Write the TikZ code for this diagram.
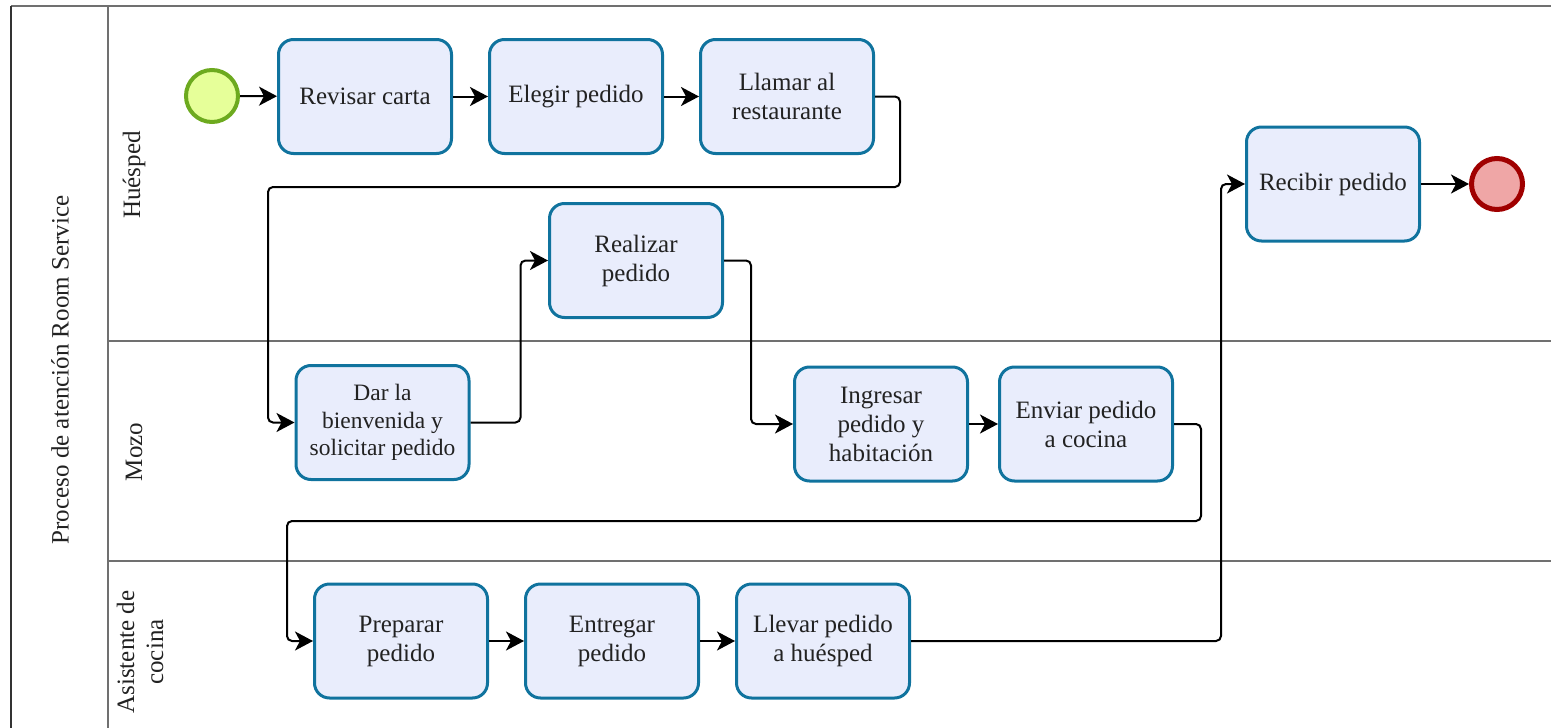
\documentclass[tikz,border=0pt]{standalone}
\usepackage{fontspec}
\setmainfont{Liberation Serif}
\usetikzlibrary{arrows.meta}
\definecolor{taskfill}{HTML}{E9EDFC}
\definecolor{taskline}{HTML}{10739E}
\definecolor{startfill}{HTML}{E6FF99}
\definecolor{startline}{HTML}{6DAA1F}
\definecolor{endfill}{HTML}{EFA6A6}
\definecolor{endline}{HTML}{A00000}
\definecolor{lanegray}{HTML}{707070}
\definecolor{txt}{HTML}{222222}
\begin{document}
\begin{tikzpicture}[x=1pt,y=-1pt,
  font=\fontsize{25}{29}\selectfont,
  task/.style={draw=taskline, fill=taskfill, line width=3pt, rounded corners=15pt,
    minimum width=173pt, minimum height=114pt, inner sep=0pt, align=center, text=txt},
  smalltask/.style={task, font=\fontsize{23.5}{27.5}\selectfont},
  startev/.style={circle, draw=startline, fill=startfill, line width=4pt,
    minimum size=52pt, inner sep=0pt},
  endev/.style={circle, draw=endline, fill=endfill, line width=5pt,
    minimum size=51pt, inner sep=0pt},
  flow/.style={draw=black, line width=2pt, rounded corners=5pt,
    -{Stealth[length=18pt,width=19pt,inset=5pt]}},
  lane/.style={draw=lanegray, line width=2pt},
  lanelabel/.style={rotate=90, align=center, text=txt, inner sep=0pt}]
\useasboundingbox (0,0) rectangle (1551,728);

% pool and lanes
\draw[lane] (11,6) -- (1551,6);
\draw[draw=black!80, line width=2pt] (11,6) -- (11,728);
\draw[lane] (108,6) -- (108,728);
\draw[lane] (108,341) -- (1551,341);
\draw[lane] (108,561) -- (1551,561);

\node[lanelabel] (pool) at (60,370) {Proceso de atención Room Service};
\node[lanelabel] (lhuesped) at (134,175) {Huésped};
\node[lanelabel] (lmozo) at (134,452) {Mozo};
\node[lanelabel] (lasist) at (140,652) {Asistente de\\cocina};

% events
\node[startev] (start) at (212,96) {};
\node[endev] (fin) at (1497,184) {};

% tasks
\node[task] (revisar) at (365,96.5) {Revisar carta};
\node[task] (elegir) at (576,96.5) {Elegir pedido};
\node[task] (llamar) at (787,96.5) {Llamar al\\restaurante};
\node[task] (recibir) at (1333,184) {Recibir pedido};
\node[task] (realizar) at (636,260.5) {Realizar\\pedido};
\node[smalltask] (dar) at (382.5,422.5) {Dar la\\bienvenida y\\solicitar pedido};
\node[task] (ingresar) at (881,424) {Ingresar\\pedido y\\habitación};
\node[task] (enviar) at (1086,424) {Enviar pedido\\a cocina};
\node[task] (preparar) at (401,641) {Preparar\\pedido};
\node[task] (entregar) at (612,641) {Entregar\\pedido};
\node[task] (llevar) at (823,641) {Llevar pedido\\a huésped};

% sequence flows
\draw[flow] (start) -- (revisar);
\draw[flow] (revisar) -- (elegir);
\draw[flow] (elegir) -- (llamar);
\draw[flow] (llamar.east) -- ++(25,0) |- (268,187) |- (dar.west);
\draw[flow] (dar.east) -- ++(50,0) |- (realizar.west);
\draw[flow] (realizar.east) -- ++(27,0) |- (ingresar.west);
\draw[flow] (ingresar) -- (enviar);
\draw[flow] (enviar.east) -- ++(27,0) |- (287,521) |- (preparar.west);
\draw[flow] (preparar) -- (entregar);
\draw[flow] (entregar) -- (llevar);
\draw[flow] (llevar.east) -- ++(310,0) |- (recibir.west);
\draw[flow] (recibir) -- (fin);
\end{tikzpicture}
\end{document}
